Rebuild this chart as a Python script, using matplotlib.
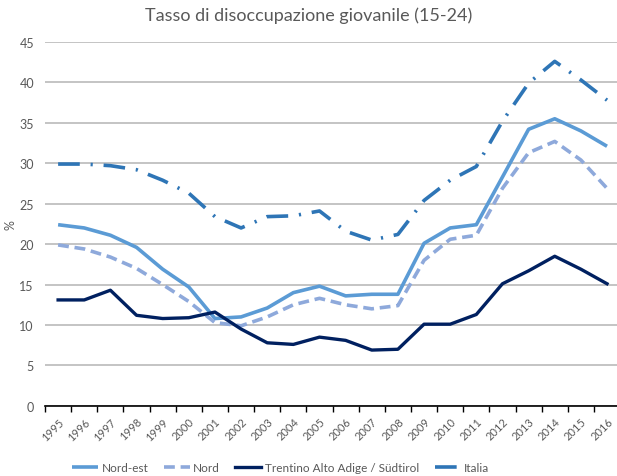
import matplotlib
matplotlib.use("Agg")
import matplotlib.pyplot as plt
import numpy as np

years = [str(y) for y in range(1995, 2017)]
nord_est = [22.4, 22.0, 21.1, 19.6, 16.9, 14.7, 10.8, 11.0, 12.1, 14.0, 14.8,
            13.6, 13.8, 13.8, 20.1, 22.0, 22.4, 28.3, 34.2, 35.5, 34.0, 32.1]
nord = [19.9, 19.4, 18.4, 17.0, 15.0, 12.9, 10.3, 9.9, 11.0, 12.5, 13.3,
        12.5, 12.0, 12.4, 18.0, 20.6, 21.1, 26.9, 31.3, 32.7, 30.4, 26.9]
trentino = [13.1, 13.1, 14.3, 11.2, 10.8, 10.9, 11.6, 9.5, 7.8, 7.6, 8.5,
            8.1, 6.9, 7.0, 10.1, 10.1, 11.3, 15.1, 16.7, 18.5, 16.9, 15.1]
italia = [29.9, 29.9, 29.7, 29.2, 27.9, 26.3, 23.4, 22.0, 23.4, 23.5, 24.1,
          21.6, 20.5, 21.2, 25.4, 27.9, 29.6, 35.2, 39.9, 42.6, 40.3, 37.8]
series_names = ["Nord-est", "Nord", "Trentino Alto Adige / Südtirol", "Italia"]
title = "Tasso di disoccupazione giovanile (15-24)"

plt.rcParams['font.family'] = ['Lato', 'DejaVu Sans']
gray = "#595959"

fig = plt.figure(figsize=(6.17, 4.77), dpi=100)
ax = fig.add_axes([0.073, 0.147, 0.932, 0.763])

x = np.arange(len(years))
ax.plot(x, nord_est, color="#5B9BD5", lw=2.6, label=series_names[0], solid_capstyle='butt')
ax.plot(x, nord, color="#8EA9DB", lw=2.6, ls=(0, (3, 1.6)), label=series_names[1])
ax.plot(x, trentino, color="#002060", lw=2.4, label=series_names[2])
ax.plot(x, italia, color="#2E75B6", lw=2.6, ls=(0, (6, 3, 0.6, 3)), label=series_names[3])

ax.set_xlim(-0.5, len(years) - 0.5)
ax.set_ylim(0, 45)
ax.set_yticks(np.arange(0, 46, 5))
ax.yaxis.grid(True, color="#BFBFBF", lw=1.3)
ax.set_axisbelow(True)
ax.tick_params(axis='y', length=0, labelsize=9, labelcolor=gray, pad=8)

ax.set_xticks(x)
ax.set_xticklabels(years, rotation=45, fontsize=8, color=gray, ha='right',
                   rotation_mode='anchor')
ax.tick_params(axis='x', which='major', length=0, pad=7)
ax.set_xticks(np.arange(-0.5, len(years)), minor=True)
ax.tick_params(axis='x', which='minor', length=4, width=1, color="black", direction='out')

for s in ['top', 'right', 'left']:
    ax.spines[s].set_visible(False)
ax.spines['bottom'].set_color("black")
ax.spines['bottom'].set_linewidth(1.2)

ax.set_ylabel("%", color=gray, fontsize=9, labelpad=2)
fig.text(0.5, 0.968, title, ha='center', va='center', fontsize=13, color=gray)

fig.legend(loc='lower center', bbox_to_anchor=(0.455, -0.016), ncol=4, frameon=False,
           fontsize=8.5, labelcolor=gray, handlelength=2.2, columnspacing=1.3, handletextpad=0.3)

fig.savefig("out.png", dpi=100)
